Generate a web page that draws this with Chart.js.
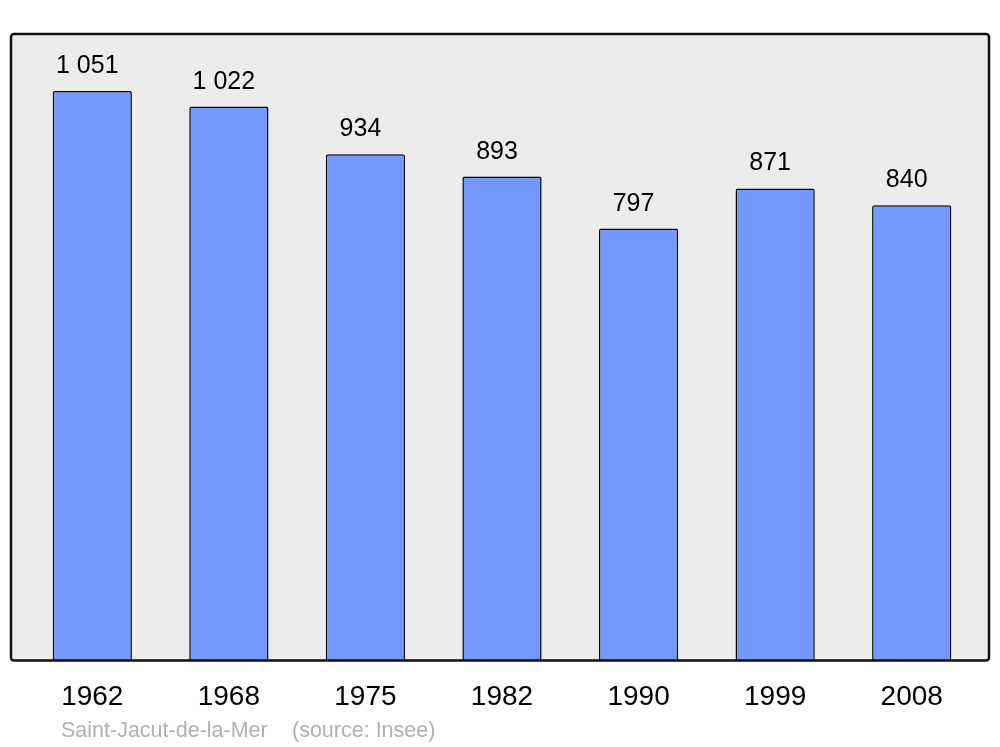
<!DOCTYPE html>
<html>
<head>
<meta charset="utf-8">
<script src="https://cdn.jsdelivr.net/npm/chart.js@4"></script>
<style>
  html, body { margin: 0; padding: 0; background: #ffffff; }
  #wrap { width: 1000px; height: 747px; }
</style>
</head>
<body>
<div id="wrap"><canvas id="popChart" width="1000" height="747"></canvas></div>
<script>
// Population data
const years = ['1962', '1968', '1975', '1982', '1990', '1999', '2008'];
const population = [1051, 1022, 934, 893, 797, 871, 840];
const valueLabels = ['1 051', '1 022', '934', '893', '797', '871', '840'];
const footerText = ['Saint-Jacut-de-la-Mer', '(source: Insee)'];

Chart.defaults.font.family = "'Liberation Sans', 'Arial', sans-serif";
Chart.defaults.color = '#000000';

// gray box behind the bars
const boxPlugin = {
    id: 'box',
    beforeDatasetsDraw(chart) {
        const { ctx, chartArea } = chart;
        const x = chartArea.left - 13, y = chartArea.top;
        const w = chartArea.right - chartArea.left + 22, h = chartArea.bottom - chartArea.top;
        ctx.save();
        ctx.beginPath();
        ctx.roundRect(x, y, w, h, 3);
        ctx.fillStyle = '#ececec';
        ctx.fill();
        ctx.restore();
    },
    afterDatasetsDraw(chart) {
        const { ctx, chartArea } = chart;
        const x = chartArea.left - 13, y = chartArea.top;
        const w = chartArea.right - chartArea.left + 22, h = chartArea.bottom - chartArea.top;
        ctx.save();
        ctx.beginPath();
        ctx.roundRect(x, y, w, h, 3);
        ctx.lineWidth = 2.5;
        ctx.strokeStyle = '#111111';
        ctx.stroke();

        // value labels
        const meta = chart.getDatasetMeta(0);
        ctx.font = "25px 'Liberation Sans', Arial, sans-serif";
        ctx.fillStyle = '#000000';
        ctx.textAlign = 'center';
        ctx.textBaseline = 'alphabetic';
        meta.data.forEach((bar, i) => {
            ctx.fillText(valueLabels[i], bar.x - 5, bar.y - 18);
        });

        // footer
        ctx.font = "21.5px 'Liberation Sans', Arial, sans-serif";
        ctx.fillStyle = '#b0b0b0';
        ctx.textAlign = 'left';
        ctx.fillText(footerText[0], 61, 737);
        ctx.fillText(footerText[1], 292, 737);
        ctx.restore();
    }
};

new Chart(document.getElementById('popChart'), {
    type: 'bar',
    data: {
        labels: years,
        datasets: [{
            data: population,
            backgroundColor: '#7399ff',
            borderColor: '#000000',
            borderWidth: 1.5,
            borderSkipped: 'bottom',
            borderRadius: 2,
            barPercentage: 0.58,
            categoryPercentage: 1.0
        }]
    },
    options: {
        responsive: false,
        animation: false,
        layout: { padding: { left: 24, right: 20, top: 34, bottom: 21 } },
        plugins: {
            legend: { display: false },
            tooltip: { enabled: false }
        },
        scales: {
            x: {
                grid: { display: false },
                border: { display: false },
                ticks: {
                    font: { size: 28 },
                    color: '#000000',
                    padding: 12,
                    maxRotation: 0
                }
            },
            y: {
                display: false,
                min: 0,
                max: 1156
            }
        }
    },
    plugins: [boxPlugin]
});
</script>
</body>
</html>
